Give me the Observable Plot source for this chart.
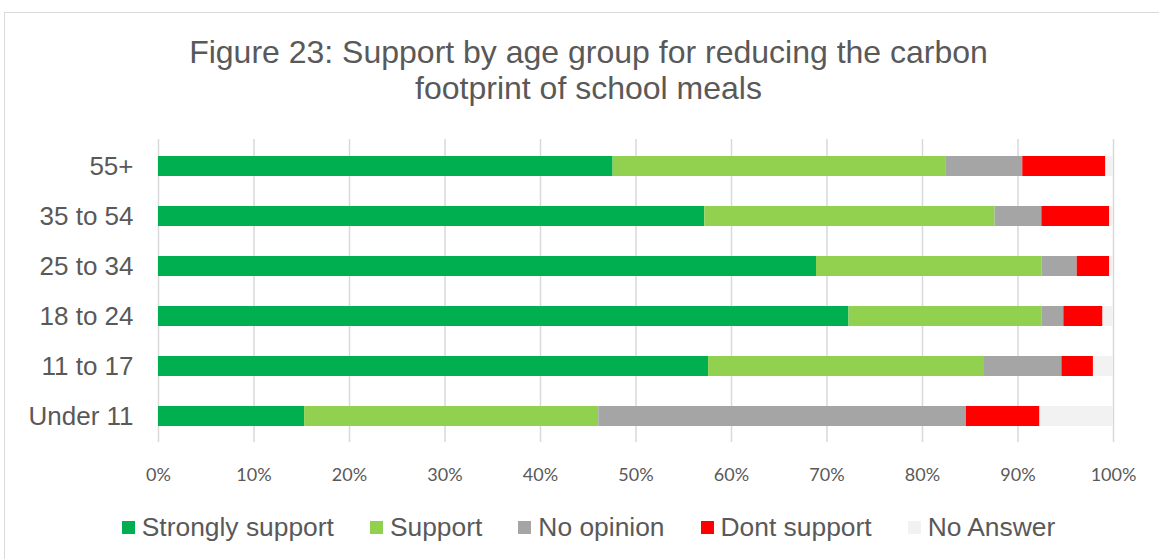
<!DOCTYPE html>
<html>
<head>
<meta charset="utf-8">
<script src="https://cdn.jsdelivr.net/npm/d3@7"></script>
<script src="https://cdn.jsdelivr.net/npm/@observablehq/plot@0.6"></script>
<style>
  html, body { margin: 0; padding: 0; background: #fff; overflow: hidden; width: 1159px; height: 559px; }
  #frame { position: absolute; left: 4px; top: 12px; width: 1200px; height: 600px; border: 1px solid #d9d9d9; box-sizing: border-box; }
  #title { position: absolute; left: 4px; width: 1169px; top: 34px; text-align: center; font-family: "Liberation Sans", Arial, sans-serif; font-size: 32px; line-height: 36px; color: #595959; }
  #chart { position: absolute; left: 0; top: 0; }
  #legend { position: absolute; left: 4px; width: 1169px; top: 512px; display: flex; justify-content: center; font-family: "Liberation Sans", Arial, sans-serif; font-size: 26.4px; color: #595959; }
  .item { display: flex; align-items: center; margin: 0 18px; }
  .sw { width: 13px; height: 13px; margin-right: 7px; }
</style>
</head>
<body>
<div id="frame"></div>
<div id="title">Figure 23: Support by age group for reducing the carbon<br>footprint of school meals</div>
<div id="chart"></div>
<div id="legend"></div>
<script>
const ageGroups = ["55+", "35 to 54", "25 to 34", "18 to 24", "11 to 17", "Under 11"];
const responses = ["Strongly support", "Support", "No opinion", "Dont support", "No Answer"];
const colors = ["#00B050", "#92D050", "#A5A5A5", "#FF0000", "#F2F2F2"];
const stronglySupport = [47.6, 57.2, 68.9, 72.3, 57.6, 15.3];
const support         = [34.9, 30.4, 23.6, 20.2, 28.8, 30.8];
const noOpinion       = [8.0, 4.9, 3.7, 2.3, 8.2, 38.5];
const dontSupport     = [8.7, 7.1, 3.4, 4.1, 3.3, 7.7];
const noAnswer        = [0.8, 0.4, 0.4, 1.1, 2.1, 7.7];
const xTicks = [0, 10, 20, 30, 40, 50, 60, 70, 80, 90, 100];

const series = [stronglySupport, support, noOpinion, dontSupport, noAnswer];
const data = [];
ageGroups.forEach((age, i) => {
  responses.forEach((r, j) => {
    data.push({age, response: r, value: series[j][i]});
  });
});

const chart = Plot.plot({
  width: 1159,
  height: 500,
  marginLeft: 158,
  marginRight: 46,
  marginTop: 139,
  marginBottom: 58,
  style: {fontFamily: "'Liberation Sans', Arial, sans-serif", color: "#595959", background: "transparent"},
  x: {domain: [0, 100], ticks: xTicks, tickFormat: d => d + "%"},
  y: {domain: ageGroups, paddingInner: 0.6, paddingOuter: 0.3},
  color: {domain: responses, range: colors},
  marks: [
    Plot.gridX(xTicks, {stroke: "#d9d9d9", strokeOpacity: 1, strokeWidth: 1.5}),
    Plot.barX(data, Plot.stackX({x: "value", y: "age", fill: "response", order: responses})),
    Plot.axisX({ticks: xTicks, tickFormat: d => d + "%", tickSize: 0, tickPadding: 26, fontSize: 18, fontFamily: "Lato, sans-serif", fill: "#595959", label: null}),
    Plot.axisY({tickSize: 0, tickPadding: 25, fontSize: 26, fill: "#595959", label: null})
  ]
});
document.getElementById("chart").appendChild(chart);

const legend = document.getElementById("legend");
responses.forEach((r, j) => {
  const it = document.createElement("div");
  it.className = "item";
  const sw = document.createElement("span");
  sw.className = "sw";
  sw.style.background = colors[j];
  const t = document.createElement("span");
  t.textContent = r;
  it.appendChild(sw);
  it.appendChild(t);
  legend.appendChild(it);
});
</script>
</body>
</html>
